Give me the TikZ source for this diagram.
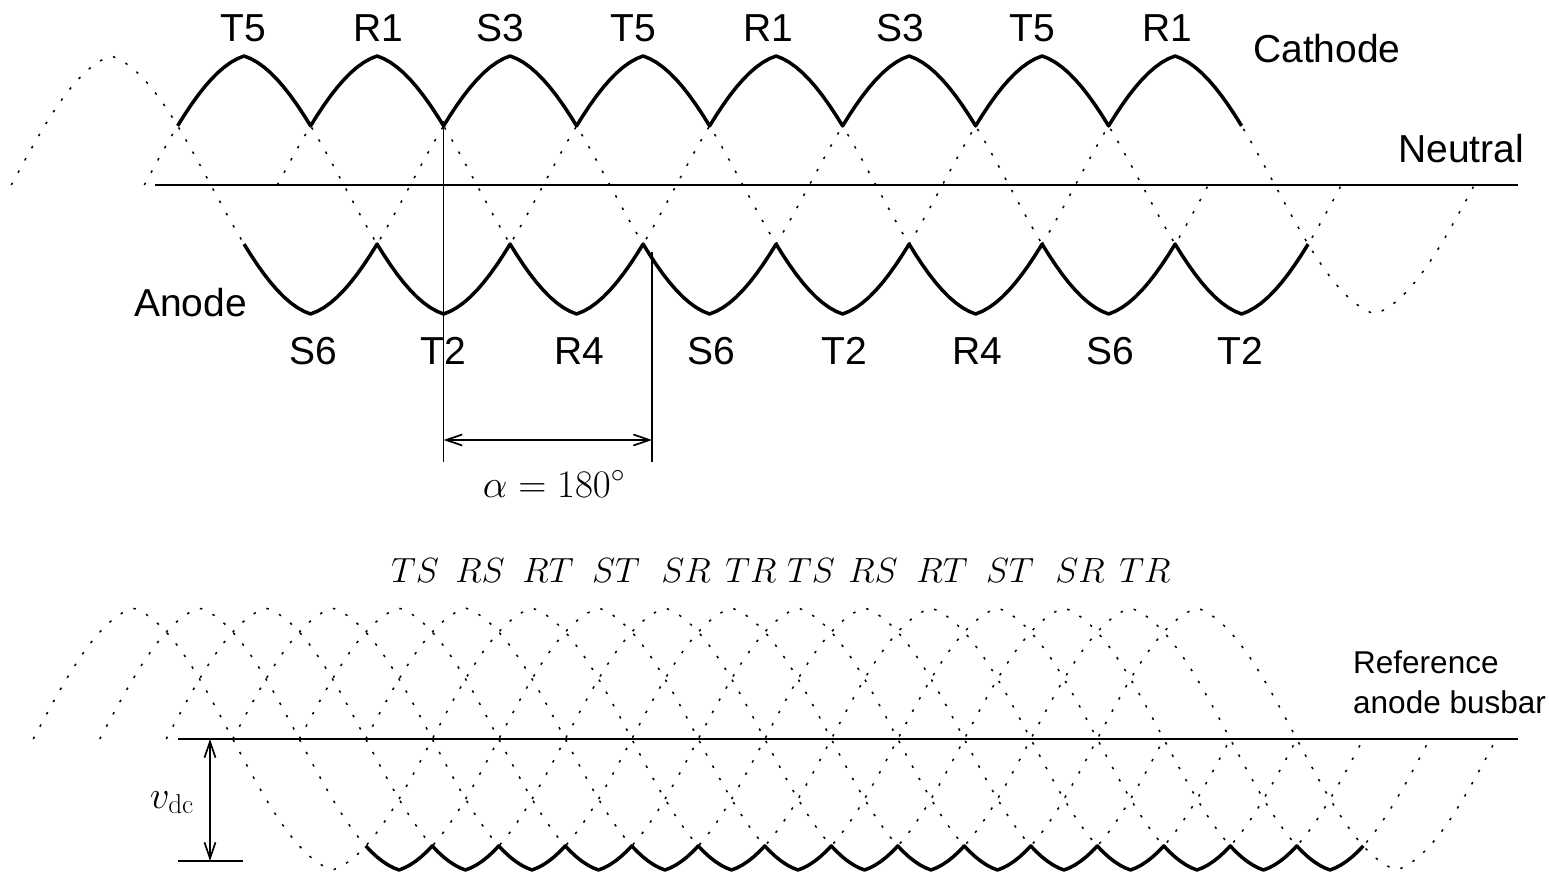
\documentclass[tikz,border=0pt]{standalone}
\usepackage{fix-cm}
\usepackage{fontspec}
\newfontfamily\sansf{Liberation Sans}
\usetikzlibrary{arrows.meta}
\begin{document}
\begin{tikzpicture}[x=1pt,y=-1pt,
  declare function={wav(\t)=0.75*cos(\t)+0.25*(1-abs(mod(\t+3780,360)-180)/90);
                    gb(\x,\p)=wav((\x-\p)*0.902256);},
  dotc/.style={line width=1.5pt,dash pattern=on 2.5pt off 11.5pt},
  envl/.style={line width=3.5pt,line join=round},
  baseln/.style={line width=2pt},
  dimln/.style={line width=1.7pt},
  dimarr/.style={line width=1.7pt,{Straight Barb[length=16pt,width=11pt]}-{Straight Barb[length=16pt,width=11pt]}},
  lbl/.style={font=\sansf\fontsize{39}{45}\selectfont,inner sep=0pt,anchor=base},
  lblw/.style={font=\sansf\fontsize{39}{45}\selectfont,inner sep=0pt,anchor=base west},
  smalllbl/.style={font=\sansf\fontsize{31.5}{38}\selectfont,inner sep=0pt,anchor=base west},
  mlbl/.style={font=\fontsize{35}{40}\selectfont,inner sep=0pt,anchor=base},
  bmlbl/.style={font=\fontsize{39}{45}\selectfont,inner sep=0pt}
]
\useasboundingbox (0,0) rectangle (1549,874);

% ---------------- top graph: phase voltages ----------------
\coordinate (n1) at (155,185);
\coordinate (n2) at (1518,185);
\draw[baseln] (n1) -- (n2);

\draw[dotc] plot[domain=11.35:1208.35,samples=400] (\x,{185-129*gb(\x,111.1)});
\draw[dotc] plot[domain=144.35:1341.35,samples=400] (\x,{185-129*gb(\x,244.1)});
\draw[dotc] plot[domain=277.35:1474.35,samples=400] (\x,{185-129*gb(\x,377.1)});

% cathode envelope
\draw[envl] plot[domain=177.6:1241.6,samples=161]
  (\x,{185-129*max(gb(\x,244.1),gb(\x,377.1),gb(\x,510.1))});
% anode envelope
\draw[envl] plot[domain=244.1:1308.1,samples=161]
  (\x,{185-129*min(gb(\x,244.1),gb(\x,377.1),gb(\x,510.1))});

% labels top
\node[lbl] (c1) at (243,42) {T5};
\node[lbl] (c2) at (378,42) {R1};
\node[lbl] (c3) at (500,42) {S3};
\node[lbl] (c4) at (633,42) {T5};
\node[lbl] (c5) at (768,42) {R1};
\node[lbl] (c6) at (900,42) {S3};
\node[lbl] (c7) at (1032,42) {T5};
\node[lbl] (c8) at (1167,42) {R1};

\node[lbl] (a1) at (313,364) {S6};
\node[lbl] (a2) at (443,364) {T2};
\node[lbl] (a3) at (579,364) {R4};
\node[lbl] (a4) at (711,364) {S6};
\node[lbl] (a5) at (844,364) {T2};
\node[lbl] (a6) at (977,364) {R4};
\node[lbl] (a7) at (1110,364) {S6};
\node[lbl] (a8) at (1240,364) {T2};

\node[lblw] (cath) at (1253,63) {Cathode};
\node[lblw] (neut) at (1398,163) {Neutral};
\node[lblw] (anod) at (134,317) {Anode};

% firing angle dimension
\coordinate (v1t) at (443.6,121.5);
\coordinate (v1b) at (443.6,462);
\coordinate (v2t) at (652,252);
\coordinate (v2b) at (652,462);
\draw[dimln] (v1t) -- (v1b);
\draw[dimln] (v2t) -- (v2b);
\coordinate (d1) at (443.6,440);
\coordinate (d2) at (652,440);
\draw[dimarr] (d1) -- (d2);
\node[bmlbl,anchor=base] (alpha) at (554,497) {$\alpha=180^\circ$};

% ---------------- bottom graph: line voltages ----------------
\coordinate (r1) at (178,739);
\coordinate (r2) at (1518,739);
\draw[baseln] (r1) -- (r2);

\foreach \j/\n in {0/3,1/3,2/3,3/3,4/3,5/2}{
  \pgfmathsetmacro\pk{133+66.5*\j}
  \pgfmathsetmacro\st{\pk-99.75}
  \pgfmathsetmacro\en{\st+399*\n}
  \draw[dotc] plot[domain=\st:\en,samples=400] (\x,{739-131*gb(\x,\pk)});
}

\draw[envl] plot[domain=365.75:1363.25,samples=181]
  (\x,{739-131*min(gb(\x,133),gb(\x,199.5),gb(\x,266),gb(\x,332.5),gb(\x,399),gb(\x,465.5))});

% labels
\node[mlbl] (l1) at (415,582) {$TS$};
\node[mlbl] (l2) at (480,582) {$RS$};
\node[mlbl] (l3) at (548,582) {$RT$};
\node[mlbl] (l4) at (616,582) {$ST$};
\node[mlbl] (l5) at (686,582) {$SR$};
\node[mlbl] (l6) at (751,582) {$TR$};
\node[mlbl] (l7) at (811,582) {$TS$};
\node[mlbl] (l8) at (873,582) {$RS$};
\node[mlbl] (l9) at (942,582) {$RT$};
\node[mlbl] (l10) at (1010,582) {$ST$};
\node[mlbl] (l11) at (1080,582) {$SR$};
\node[mlbl] (l12) at (1145,582) {$TR$};

\node[smalllbl] (ref1) at (1353,673) {Reference};
\node[smalllbl] (ref2) at (1353,713) {anode busbar};

% vdc dimension
\coordinate (b1) at (178,861);
\coordinate (b2) at (243,861);
\draw[dimln] (b1) -- (b2);
\coordinate (vt) at (210,739);
\coordinate (vb) at (210,861);
\draw[dimarr] (vt) -- (vb);
\node[bmlbl,anchor=base east] (vdc) at (194,808) {$v_{\mathrm{dc}}$};
\end{tikzpicture}
\end{document}
